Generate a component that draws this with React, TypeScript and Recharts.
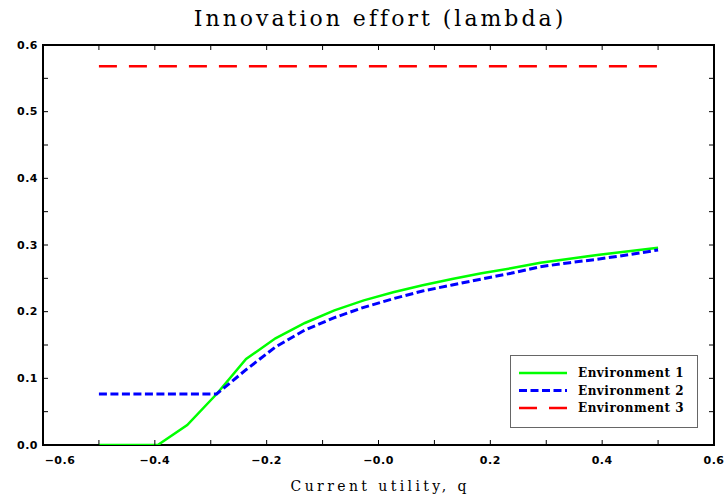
import React from 'react';
import { LineChart, Line, XAxis, YAxis } from 'recharts';

const qValues = [-0.5, -0.4474, -0.3947, -0.3421, -0.2895, -0.2368, -0.1842, -0.1316, -0.0789, -0.0263, 0.0263, 0.0789, 0.1316, 0.1842, 0.2368, 0.2895, 0.3421, 0.3947, 0.4474, 0.5];
const env1 = [0, 0, 0, 0.03, 0.0765, 0.129, 0.16, 0.183, 0.202, 0.217, 0.229, 0.2395, 0.249, 0.2575, 0.265, 0.2735, 0.2795, 0.2855, 0.2905, 0.296];
const env2 = [0.0765, 0.0765, 0.0765, 0.0765, 0.0765, 0.113, 0.147, 0.1725, 0.191, 0.2065, 0.2195, 0.231, 0.24, 0.249, 0.2575, 0.2675, 0.2735, 0.279, 0.2855, 0.2925];
const env3 = [0.568, 0.568, 0.568, 0.568, 0.568, 0.568, 0.568, 0.568, 0.568, 0.568, 0.568, 0.568, 0.568, 0.568, 0.568, 0.568, 0.568, 0.568, 0.568, 0.568];

const seriesNames = ['Environment 1', 'Environment 2', 'Environment 3'];
const seriesKeys = ['e1', 'e2', 'e3'];
const seriesColors = ['#00ff00', '#0000ff', '#ff0000'];
const seriesDash = ['', '8 3.5', '18 12'];
const seriesWidth = [2.5, 3, 2.5];

const xTicks = [-0.6, -0.5, -0.4, -0.3, -0.2, -0.1, 0, 0.1, 0.2, 0.3, 0.4, 0.5, 0.6];
const xTickLabels = ['\u22120.6', '', '\u22120.4', '', '\u22120.2', '', '\u22120.0', '', '0.2', '', '0.4', '', '0.6'];
const yTicks = [0, 0.05, 0.1, 0.15, 0.2, 0.25, 0.3, 0.35, 0.4, 0.45, 0.5, 0.55, 0.6];
const yTickLabels = ['0.0', '', '0.1', '', '0.2', '', '0.3', '', '0.4', '', '0.5', '', '0.6'];

const titleText = 'Innovation effort (lambda)';
const xLabelText = 'Current utility, q';

const data = qValues.map((q, i) => ({ q, e1: env1[i], e2: env2[i], e3: env3[i] }));

const tickFont = { fontFamily: 'DejaVu Sans', fontSize: 11, fontWeight: 700, letterSpacing: 0.5 } as const;

const findIdx = (arr: number[], v: number) => arr.findIndex((t) => Math.abs(t - v) < 1e-9);

const BottomTick = (props: any) => {
  const { x, y, payload } = props;
  const i = findIdx(xTicks, payload.value);
  const label = i >= 0 ? xTickLabels[i] : '';
  const dx = i === 0 ? 17 : 0;
  return (
    <g>
      <line x1={x} y1={y} x2={x} y2={y - 5} stroke="#000" strokeWidth={1} />
      {label && (
        <text x={x + dx} y={y + 15} textAnchor="middle" dominantBaseline="central" fill="#000" style={tickFont}>
          {label}
        </text>
      )}
    </g>
  );
};

const TopTick = (props: any) => {
  const { x, y } = props;
  return <line x1={x} y1={y} x2={x} y2={y + 5} stroke="#000" strokeWidth={1} />;
};

const LeftTick = (props: any) => {
  const { x, y, payload } = props;
  const i = findIdx(yTicks, payload.value);
  const label = i >= 0 ? yTickLabels[i] : '';
  return (
    <g>
      <line x1={x} y1={y} x2={x + 5} y2={y} stroke="#000" strokeWidth={1} />
      {label && (
        <text x={x - 5} y={y} textAnchor="end" dominantBaseline="central" fill="#000" style={tickFont}>
          {label}
        </text>
      )}
    </g>
  );
};

const RightTick = (props: any) => {
  const { x, y } = props;
  return <line x1={x} y1={y} x2={x - 5} y2={y} stroke="#000" strokeWidth={1} />;
};

export default function App() {
  return (
    <div style={{ position: 'fixed', left: 0, top: 0, width: 727, height: 501, background: '#fff' }}>
      <div
        style={{
          position: 'absolute', left: 42, top: 44, width: 673, height: 402,
          boxSizing: 'border-box', border: '2px solid #000',
        }}
      />
      <LineChart width={727} height={501} data={data} margin={{ top: 44, right: 12, bottom: 0, left: 0 }}>
        <XAxis
          xAxisId="bottom" dataKey="q" type="number" domain={[-0.6, 0.6]} ticks={xTicks} interval={0}
          allowDataOverflow height={56} tickSize={0} tickMargin={0} tickLine={false} axisLine={false}
          tick={<BottomTick />}
        />
        <XAxis
          xAxisId="top" orientation="top" dataKey="q" type="number" domain={[-0.6, 0.6]} ticks={xTicks} interval={0}
          allowDataOverflow height={1} tickSize={0} tickMargin={0} tickLine={false} axisLine={false}
          tick={<TopTick />}
        />
        <YAxis
          yAxisId="left" type="number" domain={[0, 0.6]} ticks={yTicks} interval={0}
          allowDataOverflow width={43} tickSize={0} tickMargin={0} tickLine={false} axisLine={false}
          tick={<LeftTick />}
        />
        <YAxis
          yAxisId="right" orientation="right" type="number" domain={[0, 0.6]} ticks={yTicks} interval={0}
          allowDataOverflow width={1} tickSize={0} tickMargin={0} tickLine={false} axisLine={false}
          tick={<RightTick />}
        />
        <Line
          xAxisId="top" yAxisId="right" dataKey="e3" stroke="none" strokeOpacity={0} dot={false}
          activeDot={false} isAnimationActive={false} legendType="none"
        />
        {seriesKeys.map((k, i) => (
          <Line
            key={k}
            xAxisId="bottom"
            yAxisId="left"
            type="linear"
            dataKey={k}
            name={seriesNames[i]}
            stroke={seriesColors[i]}
            strokeWidth={seriesWidth[i]}
            strokeDasharray={seriesDash[i] || undefined}
            dot={false}
            activeDot={false}
            isAnimationActive={false}
          />
        ))}
      </LineChart>
      <svg style={{ position: 'absolute', left: 0, top: 0, pointerEvents: 'none' }} width={727} height={501}>
        <text
          x={378.5 + 1.5} y={25.5} textAnchor="middle" fill="#000"
          style={{ fontFamily: 'DejaVu Serif', fontSize: 22, letterSpacing: 3 }}
        >
          {titleText}
        </text>
        <text
          x={378.5 + 1.7} y={491} textAnchor="middle" fill="#000"
          style={{ fontFamily: 'DejaVu Serif', fontSize: 14, letterSpacing: 3.4 }}
        >
          {xLabelText}
        </text>
      </svg>
      <svg style={{ position: 'absolute', left: 510, top: 355 }} width={188} height={73}>
        <rect x={0.5} y={0.5} width={187} height={72} fill="#fff" stroke="#666" strokeWidth={1} />
        {seriesNames.map((n, i) => (
          <g key={n}>
            <line
              x1={9} x2={57} y1={18 + i * 17.5} y2={18 + i * 17.5}
              stroke={seriesColors[i]} strokeWidth={seriesWidth[i]}
              strokeDasharray={seriesDash[i] || undefined}
            />
            <text
              x={68} y={18 + i * 17.5} dominantBaseline="central" fill="#000"
              style={{ fontFamily: 'DejaVu Serif', fontSize: 12, fontWeight: 700, letterSpacing: 0.5 }}
            >
              {n}
            </text>
          </g>
        ))}
      </svg>
    </div>
  );
}
